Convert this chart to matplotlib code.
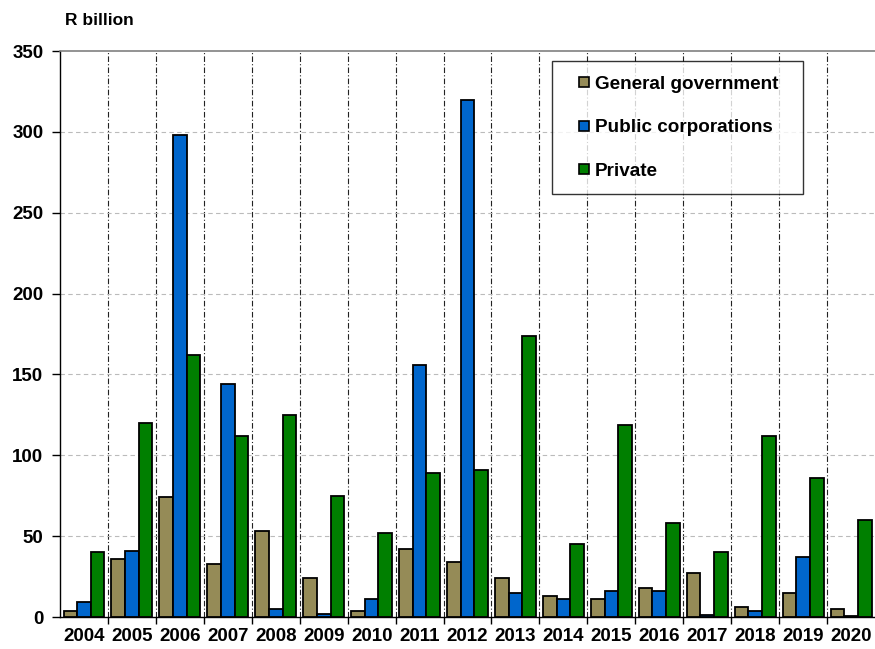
import numpy as np
import matplotlib.pyplot as plt
from matplotlib.lines import Line2D

years = ['2004', '2005', '2006', '2007', '2008', '2009', '2010', '2011', '2012',
         '2013', '2014', '2015', '2016', '2017', '2018', '2019', '2020']
general_government = [4, 36, 74, 33, 53, 24, 4, 42, 34, 24, 13, 11, 18, 27, 6, 15, 5]
public_corporations = [9, 41, 298, 144, 5, 2, 11, 156, 320, 15, 11, 16, 16, 1, 3.5, 37, 0.6]
private = [40, 120, 162, 112, 125, 75, 52, 89, 91, 174, 45, 119, 58, 40, 112, 86, 60]

series = [('General government', general_government, '#958B57'),
          ('Public corporations', public_corporations, '#0066CC'),
          ('Private', private, '#007F00')]

plt.rcParams['font.family'] = ['Liberation Sans', 'DejaVu Sans']
plt.rcParams['font.weight'] = 'bold'

fig = plt.figure(figsize=(8.75, 6.49), dpi=100)
ax = fig.add_axes([0.0686, 0.0493, 0.9314, 0.8721])

x = np.arange(len(years))
w = 0.285
for i, (name, vals, col) in enumerate(series):
    ax.bar(x + (i - 1) * w, vals, width=w, color=col, edgecolor='black',
           linewidth=1.3, label=name, zorder=3)

ax.set_xlim(-0.5, len(years) - 0.5)
ax.set_ylim(0, 350)
ax.set_yticks(np.arange(0, 351, 50))
ax.set_xticks(x)
ax.set_xticklabels(years)
ax.set_xticks(np.arange(0.5, len(years) - 0.5, 1), minor=True)
ax.tick_params(axis='x', which='major', length=0, labelsize=13.5, pad=8)
ax.tick_params(axis='x', which='minor', length=5, direction='out', width=1)
ax.tick_params(axis='y', labelsize=13.5, length=6, width=1, pad=6)
for lbl in ax.get_xticklabels() + ax.get_yticklabels():
    lbl.set_fontweight('bold')

for b in np.arange(0.5, len(years) - 0.5, 1):
    ax.axvline(b, color='#222222', linestyle=(0, (5, 2, 1, 2)), linewidth=0.8, zorder=1)
for v in range(50, 350, 50):
    ax.axhline(v, color='#bbbbbb', linestyle=(0, (4, 3)), linewidth=0.8, zorder=1)

ax.spines['left'].set_linewidth(1.0)
ax.spines['bottom'].set_linewidth(1.0)
ax.spines['top'].set_linewidth(1.2)
ax.spines['top'].set_color('#808080')
ax.spines['right'].set_visible(False)

handles = [Line2D([], [], linestyle='none', marker='s', markersize=7.5,
                  markerfacecolor=c, markeredgecolor='black', markeredgewidth=1.2)
           for _, _, c in series]
leg = ax.legend(handles, [s[0] for s in series], loc='upper left',
                bbox_to_anchor=(0.604, 0.747, 0.308, 0.235), mode='expand',
                frameon=True, fancybox=False,
                prop={'size': 13.6, 'weight': 'bold'}, handlelength=1.9,
                handletextpad=-0.4, labelspacing=1.4,
                borderpad=0.75, borderaxespad=0)
leg.get_frame().set_edgecolor('black')
leg.get_frame().set_linewidth(1.0)
leg.set_zorder(5)

fig.text(0.074, 0.969, 'R billion', fontsize=12.5, fontweight='bold',
         va='center', ha='left')

fig.savefig('out.png', dpi=100)
